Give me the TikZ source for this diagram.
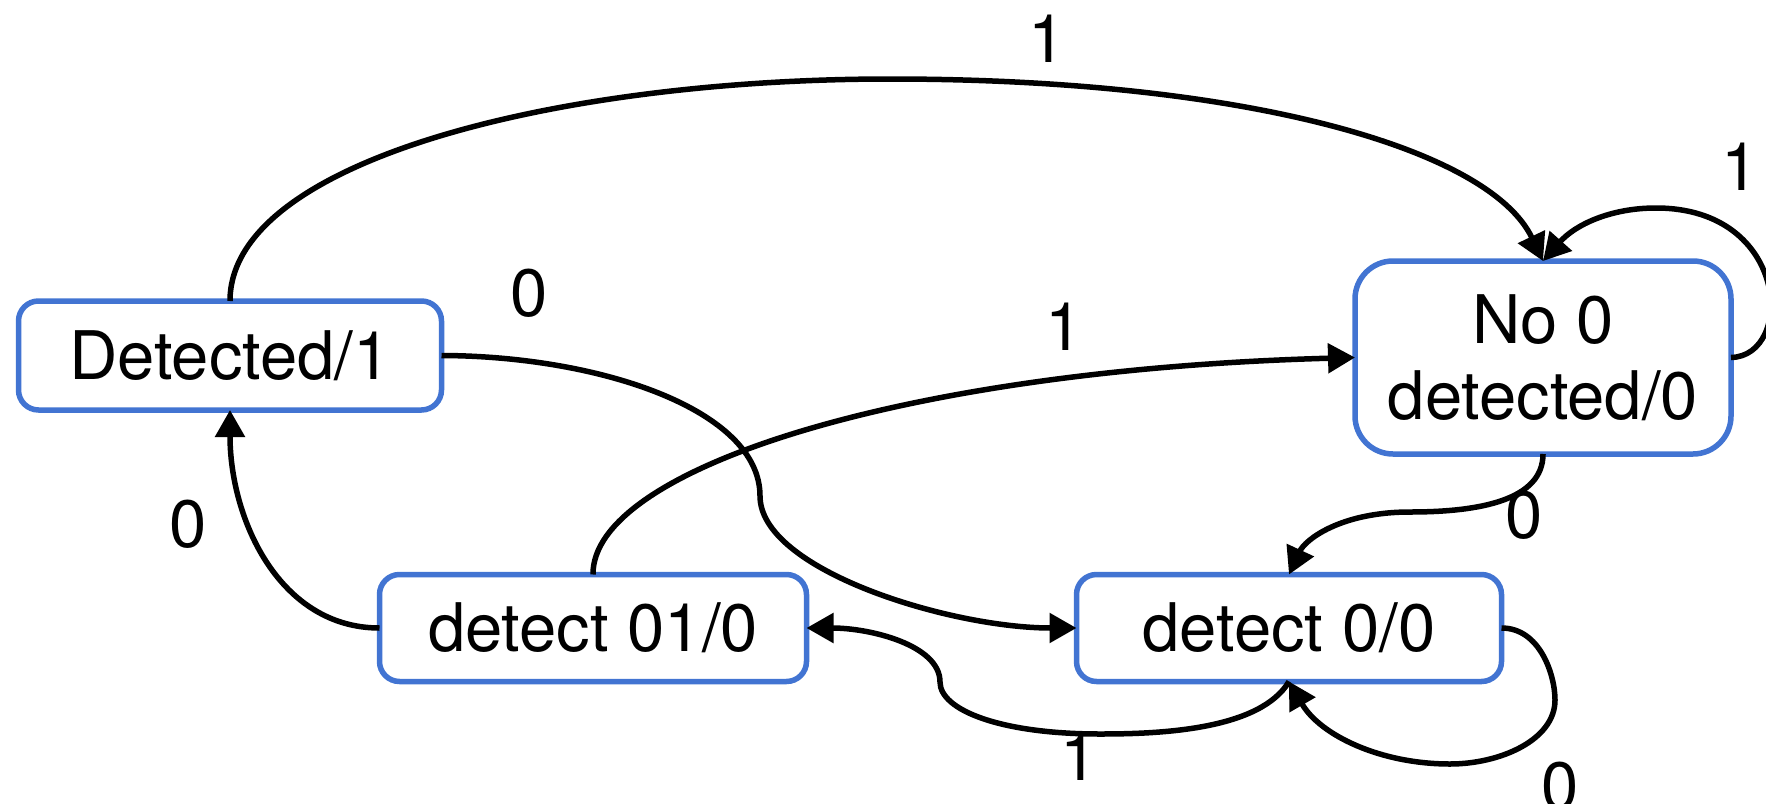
\documentclass[tikz,border=0pt]{standalone}
\usepackage{fontspec}
\setmainfont{TeX Gyre Heros}
\usetikzlibrary{arrows.meta}
\definecolor{stateblue}{RGB}{66,116,210}
\tikzset{
  state/.style={draw=stateblue, line width=5.5pt, rounded corners=20pt, fill=white,
    outer sep=0pt, inner sep=0pt, minimum height=107pt, align=center,
    font=\fontsize{67}{76}\selectfont},
  edge/.style={draw=black, line width=5.5pt, -{Triangle[length=27pt,width=29pt]}},
  lbl/.style={font=\fontsize{67}{76}\selectfont, inner sep=0pt}
}
\begin{document}
\begin{tikzpicture}[x=1pt,y=-1pt]
  \useasboundingbox (0,0) rectangle (1766,803);

  % states
  \node[state, minimum width=423pt, minimum height=109pt] (d1) at (230,355.5) {Detected/1};
  \node[state, minimum width=376pt, minimum height=193pt, rounded corners=38pt] (n0) at (1543,357.5) {No 0\\detected/0};
  \node[state, minimum width=427pt] (d01) at (593,628) {detect 01/0};
  \node[state, minimum width=425pt] (d00) at (1289,628) {detect 0/0};

  % transitions
  \draw[edge] (d1.north) .. controls (230,160) and (560,79) .. (890,79)
                          .. controls (1250,79) and (1490,150) .. (n0.north);
  \draw[edge] (n0.east) .. controls (1795,356) and (1790,208) .. (1656,208)
                        .. controls (1610,208) and (1575,225) .. (n0.north);
  \draw[edge] (d1.east) .. controls (600,356) and (760,410) .. (760,496)
                        .. controls (760,570) and (950,628) .. (d00.west);
  \draw[edge] (d01.north) .. controls (592,470) and (900,370) .. (n0.west);
  \draw[edge] (d01.west) .. controls (280,628) and (230,520) .. (d1.south);
  \draw[edge] (n0.south) .. controls (1543,500) and (1480,512) .. (1410,512)
                         .. controls (1340,512) and (1305,540) .. (d00.north);
  \draw[edge] (d00.south) .. controls (1260,730) and (1160,734) .. (1100,734)
                          .. controls (1000,734) and (940,710) .. (940,682)
                          .. controls (940,645) and (870,628) .. (d01.east);
  \draw[edge] (d00.east) .. controls (1540,628) and (1555,675) .. (1555,700)
                         .. controls (1555,740) and (1500,764) .. (1450,764)
                         .. controls (1380,764) and (1320,735) .. (d00.south);

  % input labels
  \node[lbl] (t1) at (1047,39) {1};
  \node[lbl] (t2) at (1740,167) {1};
  \node[lbl] (t3) at (529,293) {0};
  \node[lbl] (t4) at (1064,327) {1};
  \node[lbl] (t5) at (188,524) {0};
  \node[lbl] (t6) at (1524,515) {0};
  \node[lbl] (t7) at (1079,757) {1};
  \node[lbl] (t8) at (1560,786) {0};
\end{tikzpicture}
\end{document}
